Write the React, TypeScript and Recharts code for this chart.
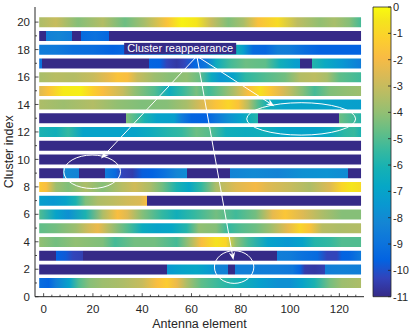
import React from "react";
import {
  ComposedChart,
  BarChart,
  Bar,
  Cell,
  XAxis,
  YAxis,
  ReferenceLine,
  ReferenceDot,
} from "recharts";

// each row: [antenna element, power level in dB]
const row01 = [[-1.8, -9.2], [2, -9.5], [5, -8.5], [10.4, -7.0], [14.4, -5.0], [18.5, -4.2], [23.9, -3.8], [32, -3.5], [40, -3.0], [46, -1.8], [50, -1.3], [54, -2.2], [58, -3.5], [64, -4.8], [72, -5.5], [80, -6.2], [88, -7.2], [95, -7.8], [100, -7.8], [105, -7.0], [110, -6.0], [116, -4.5], [121, -3.8], [128.8, -3.5]];
const row02 = [[-1.8, -11], [50, -11], [50, -7.5], [56, -7.0], [62, -6.8], [68.4, -7.5], [70, -8.3], [74.9, -8.4], [74.9, -11], [77.6, -11], [77.6, -8.5], [85, -8.5], [95, -8.6], [101, -8.8], [104, -9.5], [106, -10.5], [110, -10.6], [114.3, -10.4], [114.3, -8.5], [120, -8.4], [128.8, -8.5]];
const row03 = [[-1.8, -11], [5, -11], [5, -9.6], [9, -9.8], [12, -10.3], [15.8, -10.4], [15.8, -11], [94.7, -11], [94.7, -8.5], [100, -8.6], [105, -9.0], [111, -9.3], [115, -10.3], [119, -10.3], [121, -9.6], [124, -9.5], [128.8, -8.7]];
const row04 = [[-1.8, -4.0], [5, -4.5], [13, -4.0], [24, -4.3], [29, -5.2], [37, -4.5], [45, -4.5], [54, -5.2], [59, -3.8], [64, -1.8], [70, -0.6], [74, -1.0], [78, -4.0], [83, -5.2], [91, -7.0], [99, -7.5], [105, -7.0], [110, -5.8], [116, -5.5], [121, -5.0], [128.8, -5.0]];
const row05 = [[-1.8, -4.8], [5, -4.5], [13, -3.8], [18, -2.8], [22, -2.2], [26, -3.3], [34, -5.0], [40, -6.5], [46, -7.0], [52, -6.8], [58, -5.8], [63, -4.0], [70, -4.2], [75, -5.5], [80, -5.0], [86, -4.6], [92, -3.8], [99, -2.3], [104, -1.0], [108, -1.6], [113, -3.3], [120, -3.5], [128.8, -3.4]];
const row06 = [[-1.8, -5.0], [5, -7.0], [10, -7.8], [17, -6.0], [24, -3.5], [30, -1.8], [34, -2.5], [40, -4.2], [48, -5.5], [54, -6.3], [61, -5.5], [70, -4.5], [78, -5.3], [86, -4.5], [93, -2.3], [98, -1.5], [105, -2.5], [113, -3.5], [121, -4.2], [128.8, -4.2]];
const row07 = [[-1.8, -7.2], [4, -7.5], [9, -7.0], [13, -6.0], [17, -4.3], [22, -3.5], [28, -3.2], [34, -2.8], [39, -2.6], [42.1, -1.8], [42.1, -11], [128.8, -11]];
const row08 = [[-1.8, -1.4], [1, -1.8], [5, -3.8], [10, -4.3], [17, -3.5], [24, -4.2], [32, -3.3], [37, -2.8], [43, -3.5], [48, -4.5], [54, -6.0], [59, -6.8], [64, -5.5], [70, -3.5], [78, -2.5], [86, -2.0], [91, -2.5], [100, -3.0], [108, -3.5], [116, -2.5], [121, -1.0], [125, -0.5], [128.8, -0.8]];
const row09 = [[-1.8, -11], [7.7, -11], [7.7, -8.0], [14.2, -8.3], [14.2, -11], [25, -11], [25, -8.6], [29, -9.3], [32, -10.3], [36, -10.5], [40, -9.7], [44, -9.6], [49, -9.0], [54, -8.2], [58, -7.9], [58, -11], [75.8, -11], [75.8, -8.3], [85, -8.0], [95, -8.3], [105, -7.8], [115, -7.7], [123.7, -8.0], [123.7, -11], [128.8, -11]];
const row10 = [[-1.8, -11], [128.8, -11]];
const row11 = [[-1.8, -11], [128.8, -11]];
const row12 = [[-1.8, -6.0], [5, -6.3], [10, -5.5], [16, -7.0], [25, -7.0], [37, -7.0], [43, -6.5], [51, -5.8], [56, -5.5], [62, -4.6], [68, -5.0], [74, -6.3], [82, -6.5], [90, -6.3], [97, -6.9], [110, -7.0], [116, -6.6], [122, -5.6], [126, -5.4], [128.8, -6.0]];
const row13 = [[-1.8, -11], [33.6, -11], [33.6, -4.3], [37, -5.0], [41, -6.0], [46, -7.0], [53, -7.2], [56, -8.6], [60, -9.5], [66, -9.6], [70, -8.8], [75, -7.8], [80, -7.0], [84, -6.2], [87, -5.8], [87, -11], [120, -11], [120, -4.6], [125, -5.2], [128.8, -5.8]];
const row14 = [[-1.8, -3.5], [8, -3.8], [20, -3.4], [30, -4.0], [40, -4.3], [50, -4.2], [58, -3.6], [64, -2.6], [70, -1.6], [75, -1.0], [79, -1.6], [83, -3.3], [87, -5.0], [91, -6.3], [97, -7.0], [110, -7.0], [120, -7.1], [128.8, -7.2]];
const row15 = [[-1.8, -2.5], [2, -1.6], [8, -0.4], [15, -0.3], [20, -1.2], [24, -1.8], [32, -3.0], [37, -4.0], [45, -5.0], [51, -6.5], [56, -5.5], [62, -4.4], [67, -5.3], [72, -4.5], [78, -3.3], [83, -1.8], [88, -0.7], [92, -1.5], [96, -2.4], [100, -3.2], [105, -4.2], [110, -5.2], [116, -4.3], [123, -4.0], [128.8, -3.8]];
const row16 = [[-1.8, -3.6], [5, -3.3], [12, -3.4], [20, -3.0], [26, -2.3], [30, -1.6], [34, -1.8], [38, -3.0], [45, -3.8], [52, -4.2], [58, -4.0], [63, -4.6], [68, -6.5], [72, -7.6], [77, -7.0], [82, -5.6], [90, -5.0], [98, -4.5], [104, -3.4], [110, -3.2], [115, -3.6], [120, -4.8], [128.8, -5.3]];
const row17 = [[-1.8, -9.0], [-0.7, -9.0], [-0.7, -11], [42.8, -11], [42.8, -9.5], [47, -9.6], [50, -10.3], [54, -10.6], [57, -10.3], [61, -9.5], [66, -8.8], [70, -6.5], [76, -5.2], [82, -4.6], [90, -4.8], [96, -6.3], [102, -7.2], [104, -7.3], [104, -11], [109, -11], [109, -5.8], [114, -6.6], [121, -7.5], [128.8, -8.6]];
const row18 = [[-1.8, -8.6], [5, -8.7], [12, -9.1], [20, -9.2], [28, -9.6], [33, -9.4], [78.5, -6.3], [81, -7.2], [85, -9.3], [90, -9.4], [95, -8.5], [100, -8.6], [106, -9.2], [112, -9.6], [128.8, -9.6]];
const row19 = [[-1.8, -11], [0.9, -11], [0.9, -8.4], [6, -8.2], [11.7, -8.6], [11.7, -11], [15.1, -11], [15.1, -9.3], [21, -9.0], [26.6, -9.4], [26.6, -11], [128.8, -11]];
const row20 = [[-1.8, -3.5], [5, -3.0], [14, -4.2], [24, -3.4], [33, -4.6], [41, -3.6], [50, -1.6], [56, -0.2], [62, -0.5], [68, -3.0], [75, -4.3], [81, -3.6], [87, -1.7], [95, -0.8], [103, -3.2], [112, -4.0], [118, -3.6], [124, -4.2], [128.8, -5.2]];

const rowLevels = [row01, row02, row03, row04, row05, row06, row07, row08, row09, row10, row11, row12, row13, row14, row15, row16, row17, row18, row19, row20];
const clusters = rowLevels.map((_, i) => i + 1);
const spanStart = -1.8;
const spanEnd = 128.8;

const xTicksMajor = [0, 20, 40, 60, 80, 100, 120];
const yTicksMajor = [0, 2, 4, 6, 8, 10, 12, 14, 16, 18, 20];
const colorTicks = [0, -1, -2, -3, -4, -5, -6, -7, -8, -9, -10, -11];
const levelMin = -11;
const levelMax = 0;

// annotations in data coordinates
const noteText = "Cluster reappearance";
const notePos = { x: 55.4, y: 18.08 };
const arrowFrom = { x: 62.2, y: 17.52 };
const arrowTo = [
  { x: 93.6, y: 13.88 },
  { x: 23.3, y: 10.06 },
  { x: 77.0, y: 2.67 },
];
// bounding boxes of the ellipses
const ellipses = [
  { x1: 82.4, x2: 126.6, y1: 11.77, y2: 14.13 },
  { x1: 8.2, x2: 31.2, y1: 7.88, y2: 10.32 },
  { x1: 69.3, x2: 85.3, y1: 0.97, y2: 3.35 },
];

const FONT = '"Liberation Sans", Arial, Helvetica, sans-serif';
const INK = "#262626";

// parula, sampled
const PARULA: [number, number, number, number][] = [
  [0 / 63, 0.2081, 0.1663, 0.5292],
  [4 / 63, 0.1959, 0.2645, 0.7279],
  [8 / 63, 0.0117, 0.3875, 0.882],
  [12 / 63, 0.0498, 0.4586, 0.8641],
  [16 / 63, 0.0793, 0.52, 0.8312],
  [20 / 63, 0.0343, 0.5966, 0.8199],
  [24 / 63, 0.0228, 0.6535, 0.7768],
  [28 / 63, 0.0843, 0.6928, 0.7062],
  [32 / 63, 0.2178, 0.725, 0.6193],
  [36 / 63, 0.3953, 0.7459, 0.5244],
  [40 / 63, 0.5709, 0.7485, 0.4494],
  [44 / 63, 0.7184, 0.7411, 0.3905],
  [48 / 63, 0.8507, 0.7299, 0.336],
  [52 / 63, 0.9739, 0.7314, 0.2666],
  [56 / 63, 0.988, 0.8066, 0.1794],
  [60 / 63, 0.9589, 0.8949, 0.1132],
  [63 / 63, 0.9763, 0.9831, 0.0538],
];

function rgb(r: number, g: number, b: number) {
  return `rgb(${Math.round(r * 255)},${Math.round(g * 255)},${Math.round(b * 255)})`;
}

function parula(level: number) {
  const t = Math.min(1, Math.max(0, (level - levelMin) / (levelMax - levelMin)));
  for (let i = 1; i < PARULA.length; i++) {
    const a = PARULA[i - 1];
    const b = PARULA[i];
    if (t <= b[0]) {
      const f = (t - a[0]) / (b[0] - a[0]);
      return rgb(a[1] + (b[1] - a[1]) * f, a[2] + (b[2] - a[2]) * f, a[3] + (b[3] - a[3]) * f);
    }
  }
  const l = PARULA[PARULA.length - 1];
  return rgb(l[1], l[2], l[3]);
}

const rows = clusters.map((c) => ({ cluster: c, span: [spanStart, spanEnd] }));
const xTicks = Array.from({ length: 39 }, (_, i) => (i * 20) / 6);
const yTicks = Array.from({ length: 21 }, (_, i) => i);

const XTick = (props: any) => {
  const { x, y, payload } = props;
  const v = payload.value;
  const major = xTicksMajor.some((m) => Math.abs(m - v) < 1e-6);
  const axisY = y - 8;
  return (
    <g>
      <line x1={x} x2={x} y1={axisY} y2={axisY - (major ? 3.5 : 2)} stroke={INK} strokeWidth={0.8} />
      {major && (
        <text x={x} y={y} dy="0.71em" textAnchor="middle" fill={INK} fontSize={11.5} fontFamily={FONT}>
          {Math.round(v)}
        </text>
      )}
    </g>
  );
};

const YTick = (props: any) => {
  const { x, y, payload } = props;
  const v = payload.value;
  const major = yTicksMajor.includes(v);
  const axisX = x + 5;
  return (
    <g>
      <line x1={axisX} x2={axisX + (major ? 3.5 : 2)} y1={y} y2={y} stroke={INK} strokeWidth={0.8} />
      {major && (
        <text x={x} y={y} dy="0.36em" textAnchor="end" fill={INK} fontSize={11.5} fontFamily={FONT}>
          {v}
        </text>
      )}
    </g>
  );
};

const CTick = (props: any) => {
  const { x, y, payload } = props;
  const axisX = x - 2;
  return (
    <g>
      <line x1={axisX - 3} x2={axisX} y1={y} y2={y} stroke={INK} strokeWidth={0.8} />
      <text x={x} y={y} dy="0.36em" textAnchor="start" fill={INK} fontSize={11} fontFamily={FONT}>
        {payload.value}
      </text>
    </g>
  );
};

// segment corners -> inscribed ellipse
const EllipseShape = (props: any) => {
  const { x1, y1, x2, y2 } = props;
  return (
    <ellipse
      cx={(x1 + x2) / 2}
      cy={(y1 + y2) / 2}
      rx={Math.abs(x2 - x1) / 2}
      ry={Math.abs(y2 - y1) / 2}
      fill="none"
      stroke="#fff"
      strokeWidth={1}
    />
  );
};

const ArrowShape = (props: any) => {
  const { x1, y1, x2, y2 } = props;
  const a = Math.atan2(y2 - y1, x2 - x1);
  const dx = Math.cos(a);
  const dy = Math.sin(a);
  const len = 8;
  const half = 3.2;
  const notch = 5.5;
  const pts = [
    [x2, y2],
    [x2 - len * dx - half * dy, y2 - len * dy + half * dx],
    [x2 - notch * dx, y2 - notch * dy],
    [x2 - len * dx + half * dy, y2 - len * dy - half * dx],
  ];
  return (
    <g>
      <line x1={x1} y1={y1} x2={x2 - notch * dx} y2={y2 - notch * dy} stroke="#fff" strokeWidth={1} />
      <polygon points={pts.map((p) => p.join(",")).join(" ")} fill="#fff" />
    </g>
  );
};

const NoteShape = (props: any) => {
  const { cx, cy } = props;
  return (
    <g>
      <rect x={cx - 56} y={cy - 5.6} width={112} height={11.3} fill="#352a87" />
      <text x={cx} y={cy} dy="0.36em" textAnchor="middle" fill="#fff" fontSize={11} fontFamily={FONT}>
        {noteText}
      </text>
    </g>
  );
};

export default function App() {
  return (
    <div style={{ position: "absolute", left: 0, top: 0, width: 415, height: 332, background: "#fff" }}>
      <div style={{ position: "absolute", left: 0, top: 0 }}>
        <ComposedChart
          width={415}
          height={332}
          data={rows}
          layout="vertical"
          margin={{ top: 7, right: 51, bottom: 0, left: 0 }}
        >
          <defs>
            {rowLevels.map((pts, i) => (
              <linearGradient key={i} id={`rowGrad${i + 1}`} x1="0" y1="0" x2="1" y2="0">
                {pts.map(([v, level], j) => (
                  <stop
                    key={j}
                    offset={Math.min(1, Math.max(0, (v - spanStart) / (spanEnd - spanStart)))}
                    stopColor={parula(level)}
                  />
                ))}
              </linearGradient>
            ))}
          </defs>
          <XAxis
            type="number"
            domain={[-3.5, 130]}
            ticks={xTicks}
            interval={0}
            allowDataOverflow
            height={35.3}
            tickSize={0}
            tickMargin={8}
            tick={<XTick />}
            axisLine={{ stroke: INK, strokeWidth: 1 }}
            label={{ value: "Antenna element", position: "insideBottom", offset: 4, fill: INK, fontSize: 12.5, fontFamily: FONT }}
          />
          <YAxis
            type="number"
            dataKey="cluster"
            domain={[0, 21.1]}
            reversed
            ticks={yTicks}
            interval={0}
            allowDataOverflow
            width={35}
            tickSize={0}
            tickMargin={5}
            tick={<YTick />}
            axisLine={{ stroke: INK, strokeWidth: 1 }}
            label={{ value: "Cluster index", angle: -90, position: "center", dx: -9, fill: INK, fontSize: 12.5, fontFamily: FONT }}
          />
          <Bar dataKey="span" barSize={10} isAnimationActive={false}>
            {rows.map((r) => (
              <Cell key={r.cluster} fill={`url(#rowGrad${r.cluster})`} />
            ))}
          </Bar>
          {ellipses.map((e, i) => (
            <ReferenceLine
              key={`e${i}`}
              segment={[{ x: e.x1, y: e.y1 }, { x: e.x2, y: e.y2 }]}
              ifOverflow="visible"
              shape={<EllipseShape />}
            />
          ))}
          {arrowTo.map((p, i) => (
            <ReferenceLine key={`a${i}`} segment={[arrowFrom, p]} ifOverflow="visible" shape={<ArrowShape />} />
          ))}
          <ReferenceDot x={notePos.x} y={notePos.y} ifOverflow="visible" shape={<NoteShape />} />
        </ComposedChart>
      </div>
      <div style={{ position: "absolute", left: 0, top: 0 }}>
        <BarChart
          width={415}
          height={332}
          data={[{ key: "cb", range: [levelMin, levelMax] }]}
          margin={{ top: 7, right: 0, bottom: 35.3, left: 373 }}
          barCategoryGap={0}
        >
          <defs>
            <linearGradient id="cbGrad" x1="0" y1="1" x2="0" y2="0">
              {PARULA.map(([t, r, g, b], i) => (
                <stop key={i} offset={t} stopColor={rgb(r, g, b)} />
              ))}
            </linearGradient>
          </defs>
          <XAxis dataKey="key" type="category" hide />
          <YAxis
            orientation="right"
            type="number"
            domain={[levelMin, levelMax]}
            ticks={colorTicks}
            interval={0}
            width={24}
            tickSize={0}
            tickMargin={2}
            tick={<CTick />}
            axisLine={false}
          />
          <Bar dataKey="range" fill="url(#cbGrad)" stroke={INK} strokeWidth={0.8} isAnimationActive={false} />
        </BarChart>
      </div>
    </div>
  );
}
